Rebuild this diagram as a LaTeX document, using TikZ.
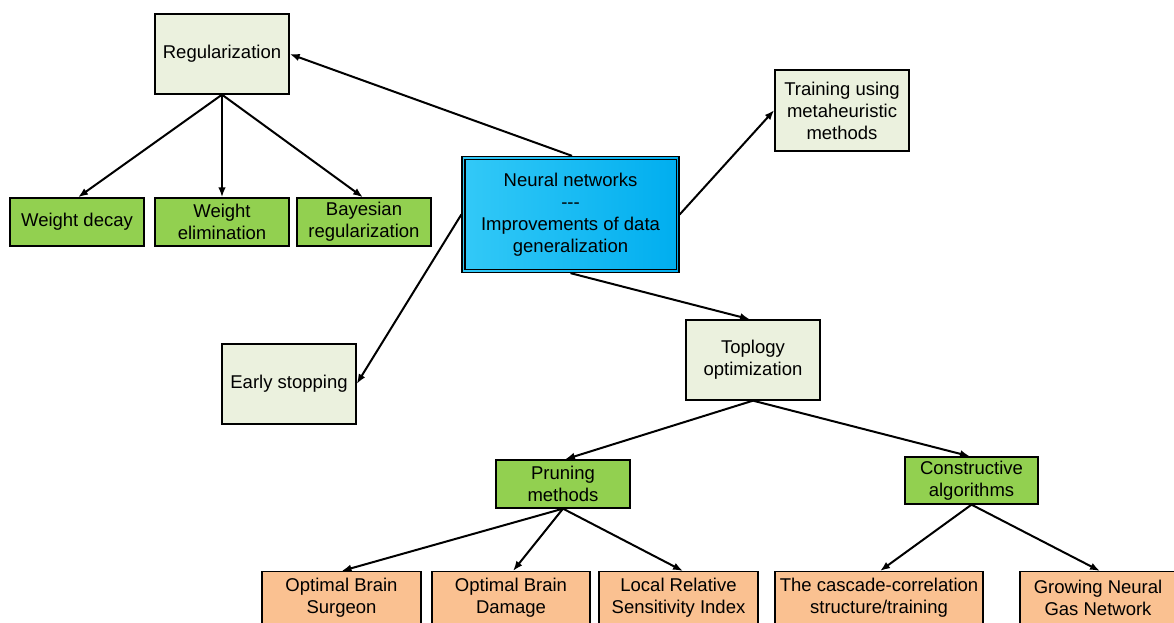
\documentclass[tikz,border=0pt]{standalone}
\usepackage{fontspec}
\setmainfont{Liberation Sans}
\usetikzlibrary{arrows.meta}
\definecolor{paleBox}{HTML}{EBF1DE}
\definecolor{greenBox}{HTML}{92D050}
\definecolor{peachBox}{HTML}{FAC191}
\definecolor{cyanL}{HTML}{33C9F7}
\definecolor{cyanR}{HTML}{00AEEF}
\tikzset{
  txt/.style={inner sep=0pt, align=center, font=\fontsize{18.5}{22}\selectfont},
  box/.style={txt, draw=black, line width=1.3pt},
  pale/.style={box, fill=paleBox},
  green/.style={box, fill=greenBox},
  peach/.style={box, fill=peachBox, anchor=north, minimum height=70pt},
  link/.style={line width=2pt, -{Latex[length=10pt,width=7.5pt]}},
}
\begin{document}
\begin{tikzpicture}[x=1pt,y=-1pt]
\useasboundingbox (0,0) rectangle (1174,623);
\fill[white] (0,0) rectangle (1174,623);

% top-level nodes
\node[pale, minimum width=134pt, minimum height=80pt] (reg) at (222,54) {Regularization};
\node[pale, minimum width=134pt, minimum height=81pt] (meta) at (842,110.5) {Training using\\metaheuristic\\methods};
\node[pale, minimum width=134pt, minimum height=80pt] (early) at (289,384) {Early stopping};
\node[pale, minimum width=134pt, minimum height=80pt] (topo) at (753,360) {Toplogy\\optimization};

% central node with double frame and blue gradient
\node[box, left color=cyanL, right color=cyanR, minimum width=217pt, minimum height=116pt]
  (nn) at (570.5,214.5) {Neural networks\\-{}-{}-\\Improvements of data\\generalization};
\draw[line width=1.3pt] ([shift={(3.5,3.5)}]nn.north west) rectangle ([shift={(-3.5,-3.5)}]nn.south east);

% regularization techniques
\node[green, minimum width=134pt, minimum height=48pt] (decay) at (77,222) {Weight decay};
\node[green, minimum width=134pt, minimum height=48pt] (elim) at (222,222) {Weight\\elimination};
\node[green, minimum width=134pt, minimum height=48pt] (bayes) at (364,222) {Bayesian\\regularization};

% topology optimization branches
\node[green, minimum width=134pt, minimum height=48pt] (prune) at (563,484) {Pruning\\methods};
\node[green, minimum width=133pt, minimum height=47pt] (constr) at (971.5,480.5) {Constructive\\algorithms};

% leaves: boxes run past the lower edge, text sits near their top
\node[peach, minimum width=159pt] (obs) at (341.5,571) {};
\node[peach, minimum width=158pt] (obd) at (511,571) {};
\node[peach, minimum width=159pt] (lrsi) at (678.5,571) {};
\node[peach, minimum width=208pt] (casc) at (879,571) {};
\node[peach, minimum width=156pt] (gng) at (1098,571) {};
\node[txt] (obs-t) at ([yshift=-26.5pt]obs.north) {Optimal Brain\\Surgeon};
\node[txt] (obd-t) at ([yshift=-26.5pt]obd.north) {Optimal Brain\\Damage};
\node[txt] (lrsi-t) at ([yshift=-26.5pt]lrsi.north) {Local Relative\\Sensitivity Index};
\node[txt] (casc-t) at ([yshift=-26.5pt]casc.north) {The cascade-correlation\\structure/training};
\node[txt] (gng-t) at ([yshift=-26.5pt]gng.north) {Growing Neural\\Gas Network};

% connectors
\draw[link] ([xshift=1.5pt]nn.north) -- (reg.east);
\draw[link] (reg.south) -- ([xshift=1pt]decay.north);
\draw[link] (reg.south) -- (elim.north);
\draw[link] (reg.south) -- ([xshift=-1pt]bayes.north);
\draw[link] (nn.east) -- (meta.west |- 0,110);
\draw[link] (nn.west) -- (early.east);
\draw[link] (nn.south) -- ([xshift=-3pt]topo.north);
\draw[link] (topo.south) -- ([xshift=2pt]prune.north);
\draw[link] (topo.south) -- ([xshift=-1.5pt]constr.north);
\draw[link] (prune.south) -- (obs.north);
\draw[link] (prune.south) -- ([xshift=2pt]obd.north);
\draw[link] (prune.south) -- ([xshift=4.5pt]lrsi.north);
\draw[link] (constr.south) -- ([xshift=1pt]casc.north);
\draw[link] (constr.south) -- ([xshift=2pt]gng.north);
\end{tikzpicture}
\end{document}
